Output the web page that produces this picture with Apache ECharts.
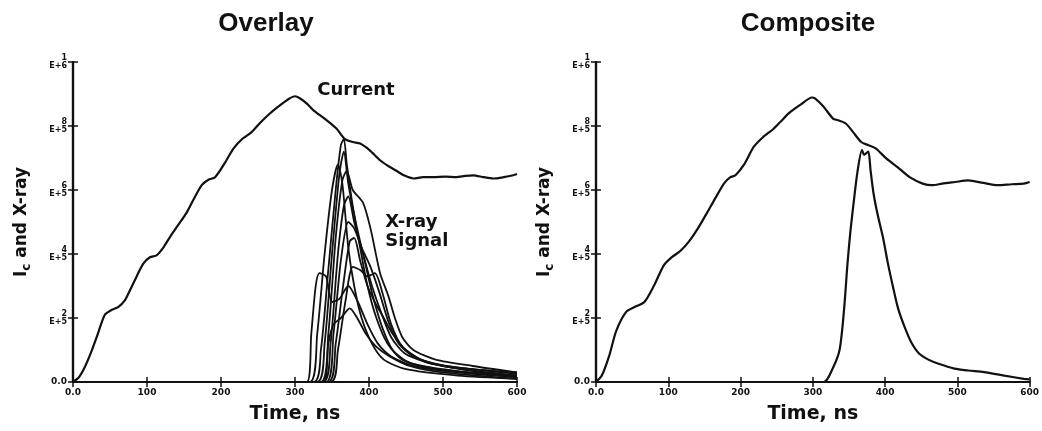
<!DOCTYPE html>
<html>
<head>
<meta charset="utf-8">
<script src="https://cdn.jsdelivr.net/npm/echarts@6/dist/echarts.min.js"></script>
<style>
html,body{margin:0;padding:0;background:#fff;}
#c{width:1042px;height:431px;}
</style>
</head>
<body>
<div id="c"></div>
<script>
// ---- Data (time in ns, signal in units of 1E+6) ----
var xTicks = [0, 100, 200, 300, 400, 500, 600];
var xTickLabels = ['0.0', '100', '200', '300', '400', '500', '600'];
var yTickLabels = ['0.0', '2|E+5', '4|E+5', '6|E+5', '8|E+5', '1|E+6'];

var currentOverlay = [[0,0],[8,0.015],[16,0.047],[24,0.09],[32,0.14],[43,0.21],[52,0.225],[61,0.234],[70,0.255],[77,0.287],[86,0.33],[95,0.37],[104,0.39],[113,0.396],[122,0.42],[131,0.453],[142,0.49],[154,0.531],[164,0.575],[174,0.615],[183,0.632],[192,0.64],[204,0.68],[217,0.73],[229,0.76],[241,0.78],[253,0.81],[266,0.839],[280,0.865],[292,0.885],[300,0.893],[307,0.886],[316,0.87],[325,0.849],[340,0.823],[356,0.792],[367,0.76],[378,0.75],[388,0.745],[401,0.724],[415,0.693],[426,0.675],[437,0.66],[448,0.645],[460,0.636],[473,0.64],[487,0.64],[503,0.642],[518,0.64],[530,0.644],[541,0.646],[555,0.64],[568,0.636],[582,0.64],[595,0.646],[600,0.65]];

var xray1  = [[0,0],[325,0],[335,0.1],[345,0.35],[355,0.6],[362,0.74],[366,0.76],[370,0.68],[378,0.55],[388,0.42],[398,0.3],[410,0.2],[425,0.12],[445,0.07],[480,0.045],[530,0.03],[600,0.015]];
var xray2  = [[0,0],[330,0],[340,0.12],[350,0.4],[360,0.65],[366,0.72],[372,0.62],[382,0.5],[394,0.38],[405,0.27],[418,0.17],[432,0.1],[455,0.06],[500,0.04],[560,0.025],[600,0.02]];
var xray3  = [[0,0],[335,0],[345,0.15],[355,0.45],[364,0.63],[370,0.66],[378,0.6],[392,0.56],[402,0.48],[415,0.34],[426,0.27],[435,0.2],[445,0.14],[460,0.1],[490,0.07],[540,0.05],[600,0.03]];
var xray4  = [[0,0],[338,0],[348,0.12],[358,0.4],[366,0.55],[372,0.58],[380,0.5],[392,0.4],[404,0.3],[416,0.22],[430,0.14],[448,0.09],[480,0.06],[540,0.035],[600,0.02]];
var xray5  = [[0,0],[342,0],[352,0.15],[362,0.38],[372,0.5],[380,0.48],[390,0.42],[402,0.36],[414,0.28],[426,0.19],[440,0.12],[460,0.08],[500,0.05],[560,0.03],[600,0.02]];
var xray6  = [[0,0],[345,0],[355,0.12],[365,0.3],[374,0.44],[380,0.45],[388,0.38],[398,0.3],[410,0.24],[420,0.2],[432,0.15],[450,0.1],[480,0.06],[540,0.04],[600,0.025]];
var xray7  = [[0,0],[348,0],[358,0.1],[368,0.25],[378,0.36],[388,0.35],[398,0.33],[408,0.34],[418,0.28],[430,0.18],[445,0.11],[470,0.07],[520,0.045],[600,0.03]];
var xray8  = [[0,0],[316,0],[322,0.15],[328,0.3],[333,0.34],[342,0.33],[350,0.25],[360,0.26],[372,0.3],[385,0.25],[398,0.18],[412,0.12],[430,0.08],[460,0.05],[520,0.03],[600,0.015]];
var xray9  = [[0,0],[338,0],[345,0.12],[352,0.18],[362,0.2],[374,0.23],[384,0.2],[396,0.15],[410,0.11],[428,0.08],[455,0.05],[500,0.03],[600,0.01]];
var xray10 = [[0,0],[320,0],[330,0.15],[340,0.4],[350,0.6],[358,0.68],[364,0.62],[372,0.42],[380,0.3],[390,0.2],[404,0.12],[420,0.07],[450,0.04],[520,0.02],[600,0.01]];

var currentComposite = [[0,0],[8,0.02],[18,0.08],[28,0.16],[42,0.22],[54,0.235],[67,0.25],[80,0.3],[94,0.365],[105,0.39],[117,0.41],[129,0.44],[141,0.48],[159,0.55],[177,0.62],[186,0.64],[193,0.646],[205,0.68],[218,0.734],[231,0.765],[245,0.79],[256,0.815],[267,0.84],[282,0.865],[299,0.889],[303,0.886],[315,0.86],[328,0.823],[335,0.818],[346,0.807],[356,0.78],[367,0.75],[377,0.74],[387,0.73],[402,0.698],[418,0.67],[434,0.64],[452,0.62],[465,0.615],[479,0.62],[497,0.625],[515,0.63],[536,0.622],[556,0.615],[575,0.618],[592,0.62],[600,0.625]];
var xrayComposite = [[0,0],[315,0],[327,0.04],[337,0.1],[343,0.22],[348,0.37],[352,0.47],[357,0.57],[362,0.66],[368,0.725],[371,0.71],[374,0.715],[377,0.72],[380,0.66],[384,0.59],[390,0.52],[397,0.453],[404,0.37],[411,0.297],[418,0.23],[427,0.172],[436,0.125],[447,0.089],[460,0.07],[474,0.057],[496,0.042],[515,0.036],[537,0.031],[565,0.02],[592,0.01],[600,0.008]];

var overlayXray = [xray1, xray2, xray3, xray4, xray5, xray6, xray7, xray8, xray9, xray10];

// ---- Chart ----
var chart = echarts.init(document.getElementById('c'), null, {renderer: 'canvas'});
var INK = '#111';
var FONT = 'DejaVu Sans';

function yLabel(v) {
  var i = Math.round(v / 0.2);
  var s = yTickLabels[i];
  if (s === undefined) return '';
  if (s.indexOf('|') < 0) return '{z|' + s + '}';
  var p = s.split('|');
  return '{n|' + p[0] + '}\n{e|' + p[1] + '}';
}
function xLabel(v) {
  var i = xTicks.indexOf(Math.round(v));
  return i < 0 ? '' : xTickLabels[i];
}

var grids = [
  {left: 73, top: 62, width: 444, height: 320},
  {left: 596, top: 62, width: 440, height: 320}
];

var xAxes = [], yAxes = [];
[0, 1].forEach(function (g) {
  xAxes.push({
    type: 'value', gridIndex: g, min: 0, max: 600, interval: 100, position: 'bottom',
    name: 'Time, ns', nameLocation: 'middle', nameGap: 23,
    nameTextStyle: {fontFamily: FONT, fontWeight: 'bold', fontSize: 19, color: INK},
    axisLine: {show: true, onZero: false, lineStyle: {color: INK, width: 2.2}},
    axisTick: {show: true, inside: true, length: 5, lineStyle: {color: INK, width: 1.5}},
    axisLabel: {fontFamily: FONT, fontWeight: 'bold', fontSize: 9, color: INK, margin: 6, formatter: xLabel},
    splitLine: {show: false}
  });
  xAxes.push({
    type: 'value', gridIndex: g, min: 0, max: 600, interval: 100, position: 'top',
    axisLine: {show: true, lineStyle: {color: INK, width: 2.2}},
    axisTick: {show: true, inside: true, length: 5, lineStyle: {color: INK, width: 1.5}},
    axisLabel: {show: false}, splitLine: {show: false}
  });
  yAxes.push({
    type: 'value', gridIndex: g, min: 0, max: 1, interval: 0.2, position: 'left',
    name: '{a|I}{s|c}{a| and X-ray}', nameLocation: 'middle', nameGap: 40, nameRotate: 90,
    nameTextStyle: {
      color: INK,
      rich: {
        a: {fontFamily: FONT, fontWeight: 'bold', fontSize: 17, color: INK, lineHeight: 22, verticalAlign: 'middle'},
        s: {fontFamily: FONT, fontWeight: 'bold', fontSize: 12, color: INK, lineHeight: 22, verticalAlign: 'bottom', padding: [8, 0, 0, 0]}
      }
    },
    axisLine: {show: true, onZero: false, lineStyle: {color: INK, width: 2.2}},
    axisTick: {show: true, inside: true, length: 5, lineStyle: {color: INK, width: 1.5}},
    axisLabel: {
      margin: 6, formatter: yLabel, align: 'right',
      rich: {
        n: {fontFamily: FONT, fontWeight: 'bold', fontSize: 8, color: INK, lineHeight: 8, align: 'right'},
        e: {fontFamily: FONT, fontWeight: 'bold', fontSize: 8, color: INK, lineHeight: 9, align: 'right'},
        z: {fontFamily: FONT, fontWeight: 'bold', fontSize: 9, color: INK}
      }
    },
    splitLine: {show: false}
  });
  yAxes.push({
    type: 'value', gridIndex: g, min: 0, max: 1, interval: 0.2, position: 'right',
    axisLine: {show: true, lineStyle: {color: INK, width: 2.2}},
    axisTick: {show: true, inside: true, length: 5, lineStyle: {color: INK, width: 1.5}},
    axisLabel: {show: false}, splitLine: {show: false}
  });
});

function lineSeries(data, xi, yi, z, w) {
  return {
    type: 'line', data: data, xAxisIndex: xi, yAxisIndex: yi,
    showSymbol: false, symbol: 'none', smooth: 0.25, z: z || 2,
    lineStyle: {color: INK, width: w || 2}, silent: true, animation: false
  };
}

var series = [];
overlayXray.forEach(function (d) { series.push(lineSeries(d, 0, 0, 2, 1.8)); });
series.push(lineSeries(currentOverlay, 0, 0, 3, 2.2));
series.push(lineSeries(currentComposite, 2, 2, 3, 2.2));
series.push(lineSeries(xrayComposite, 2, 2, 3, 2.2));

// annotation labels anchored to data coordinates
var annoLabel = {show: true, position: 'right', distance: 0, fontFamily: FONT, fontWeight: 'bold', fontSize: 18, color: INK, opacity: 1};
series.push({
  type: 'scatter', xAxisIndex: 0, yAxisIndex: 0, symbolSize: 0, silent: true, animation: false,
  itemStyle: {color: INK, opacity: 1},
  data: [
    {value: [330, 0.91], label: Object.assign({}, annoLabel, {formatter: 'Current'})},
    {value: [422, 0.47], label: Object.assign({}, annoLabel, {formatter: 'X-ray\nSignal', lineHeight: 19})}
  ],
  label: annoLabel
});

chart.setOption({
  backgroundColor: '#fff',
  animation: false,
  title: [
    {text: 'Overlay', left: 261, top: 6, textAlign: 'center',
     textStyle: {fontFamily: 'Liberation Sans', fontWeight: 'bold', fontSize: 26, color: INK}},
    {text: 'Composite', left: 803, top: 6, textAlign: 'center',
     textStyle: {fontFamily: 'Liberation Sans', fontWeight: 'bold', fontSize: 26, color: INK}}
  ],
  grid: grids,
  xAxis: xAxes,
  yAxis: yAxes,
  series: series
});
</script>
</body>
</html>
